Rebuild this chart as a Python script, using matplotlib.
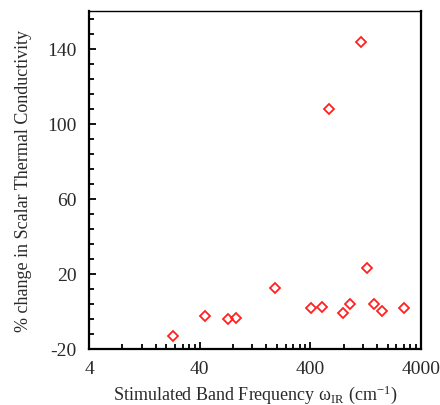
import numpy as np
import matplotlib
matplotlib.use("Agg")
import matplotlib.pyplot as plt
from matplotlib.ticker import FixedLocator, NullFormatter

plt.rcParams['font.family'] = ['Liberation Serif', 'DejaVu Serif']
plt.rcParams['mathtext.default'] = 'regular'
plt.rcParams['axes.unicode_minus'] = False

# band frequency (cm^-1) and % change in scalar thermal conductivity
freq = [23.0, 44.7, 71.5, 84.9, 192, 405, 506, 585, 788, 911, 1159, 1312, 1500, 1770, 2830]
pct_change = [-13.0, -2.5, -4.1, -3.6, 12.3, 1.7, 2.1, 108.0, -0.8, 4.0, 143.5, 23.1, 4.0, 0.1, 1.7]

x_major = [4, 40, 400, 4000]
y_major = [-20, 20, 60, 100, 140]

fig = plt.figure(figsize=(4.4, 4.06), dpi=100)
ax = fig.add_axes([0.2023, 0.138, 0.7545, 0.832])

ax.plot(freq, pct_change, linestyle='none', marker='D', markersize=5.5,
        markerfacecolor='none', markeredgecolor='#ff2020', markeredgewidth=1.3)

ax.set_xscale('log')
ax.set_xlim(4, 4000)
ax.set_ylim(-20, 160)

ax.xaxis.set_major_locator(FixedLocator(x_major))
ax.set_xticklabels([str(v) for v in x_major])
x_minor = [m * d for d in [4, 40, 400] for m in range(2, 10)]
ax.xaxis.set_minor_locator(FixedLocator(x_minor))
ax.xaxis.set_minor_formatter(NullFormatter())

ax.yaxis.set_major_locator(FixedLocator(y_major))
ax.yaxis.set_minor_locator(FixedLocator(np.arange(-20, 161, 8)))

ax.tick_params(which='both', direction='in', top=False, right=False,
               labelsize=14, labelcolor='#2a2a2a', width=1.3)
ax.tick_params(which='major', length=5)
ax.tick_params(which='minor', length=3.5)
ax.tick_params(axis='x', which='major', pad=8)
ax.tick_params(axis='y', which='major', pad=9)

for side in ['left', 'bottom']:
    ax.spines[side].set_linewidth(1.6)
ax.spines['right'].set_linewidth(1.6)
ax.spines['top'].set_linewidth(1.0)

ax.set_xlabel('Stimulated Band Frequency ω$_{IR}$ (cm$^{-1}$)', fontsize=13, color='#2a2a2a', labelpad=4)
ax.set_ylabel('% change in Scalar Thermal Conductivity', fontsize=13, color='#2a2a2a', labelpad=11)

fig.savefig('out.png', dpi=100)
